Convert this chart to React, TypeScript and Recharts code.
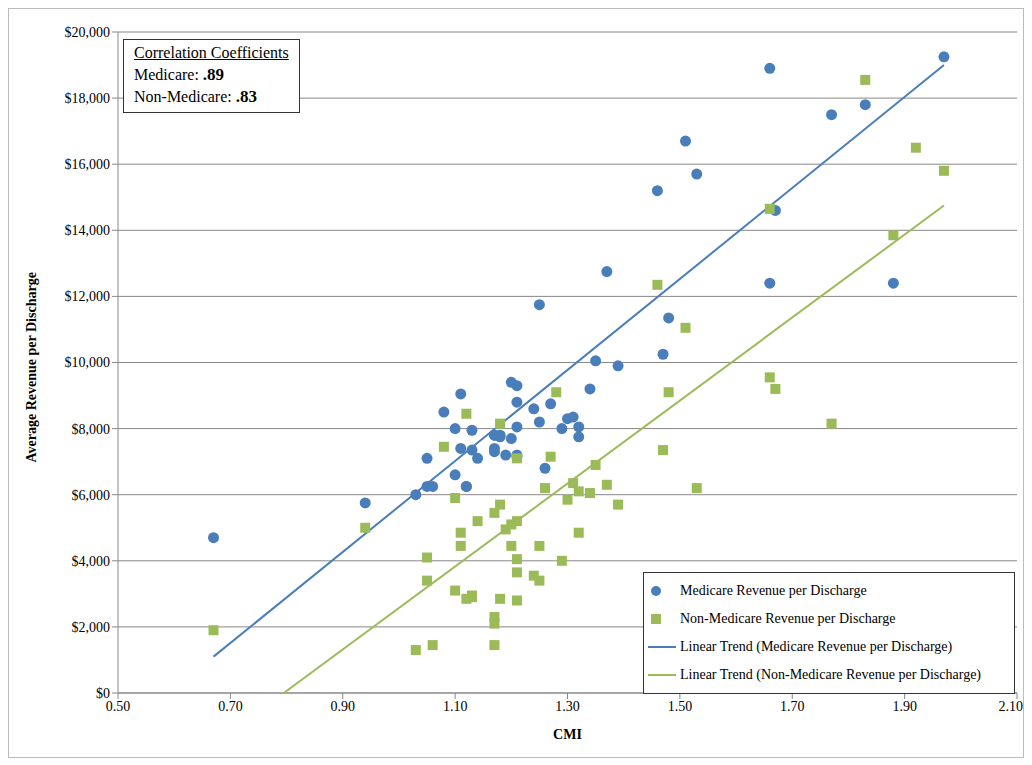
import { ScatterChart, Scatter, XAxis, YAxis, CartesianGrid, Legend } from 'recharts';

// CMI per hospital and revenue per discharge
const cmi = [0.67, 0.94, 1.03, 1.05, 1.05, 1.06, 1.08, 1.10, 1.10, 1.11, 1.11, 1.12, 1.12, 1.13, 1.13, 1.14, 1.17, 1.17, 1.17, 1.18, 1.18, 1.17, 1.19, 1.20, 1.20, 1.21, 1.21, 1.21, 1.21, 1.25, 1.24, 1.25, 1.26, 1.27, 1.29, 1.30, 1.31, 1.32, 1.32, 1.35, 1.34, 1.39, 1.37, 1.47, 1.48, 1.46, 1.51, 1.53, 1.66, 1.67, 1.66, 1.77, 1.83, 1.88, 1.97, 1.92, 1.28, 1.18, 1.21];
const medicare = [4700, 5750, 6000, 7100, 6250, 6250, 8500, 8000, 6600, 7400, 9050, 6250, 6250, 7950, 7350, 7100, 7800, 7400, 7300, 7800, 7750, 7800, 7200, 7700, 9400, 9300, 8800, 8050, 7150, 11750, 8600, 8200, 6800, 8750, 8000, 8300, 8350, 8050, 7750, 10050, 9200, 9900, 12750, 10250, 11350, 15200, 16700, 15700, 18900, 14600, 12400, 17500, 17800, 12400, 19250, null, null, null, 7200];
const nonMedicare = [1900, 5000, 1300, 4100, 3400, 1450, 7450, 3100, 5900, 4850, 4450, 8450, 2850, 2900, 2950, 5200, 2300, 2100, 1450, 5700, 8150, 5450, 4950, 5100, 4450, 2800, 3650, 4050, 5200, 4450, 3550, 3400, 6200, 7150, 4000, 5850, 6350, 6100, 4850, 6900, 6050, 5700, 6300, 7350, 9100, 12350, 11050, 6200, 14650, 9200, 9550, 8150, 18550, 13850, 15800, 16500, 9100, 2850, 7100];

// trend line endpoints
const trendMedX = [0.67, 1.97];
const trendMedY = [1100, 19000];
const trendNonX = [0.795, 1.97];
const trendNonY = [0, 14750];

const xTicks = [0.5, 0.7, 0.9, 1.1, 1.3, 1.5, 1.7, 1.9, 2.1];
const yTicks = [0, 2000, 4000, 6000, 8000, 10000, 12000, 14000, 16000, 18000, 20000];

const medData = cmi.map((x, i) => ({ x, y: medicare[i] })).filter((d) => d.y != null);
const nonData = cmi.map((x, i) => ({ x, y: nonMedicare[i] })).filter((d) => d.y != null);
const medTrend = trendMedX.map((x, i) => ({ x, y: trendMedY[i] }));
const nonTrend = trendNonX.map((x, i) => ({ x, y: trendNonY[i] }));

const BLUE = '#4a7ebb';
const GREEN = '#9bbb59';
const font = '"Liberation Serif", "Times New Roman", serif';

const legendItems = [
    { label: 'Medicare Revenue per Discharge', kind: 'circle', color: BLUE },
    { label: 'Non-Medicare Revenue per Discharge', kind: 'square', color: GREEN },
    { label: 'Linear Trend (Medicare Revenue per Discharge)', kind: 'line', color: BLUE },
    { label: 'Linear Trend (Non-Medicare Revenue per Discharge)', kind: 'line', color: GREEN },
];

const LegendBox = () => (
    <div style={{ border: '1px solid #333', background: '#fff', padding: '4px 4px', fontFamily: font, fontSize: 14, width: 362 }}>
        {legendItems.map((it) => (
            <div key={it.label} style={{ display: 'flex', alignItems: 'center', height: 28, whiteSpace: 'nowrap' }}>
                <svg width={30} height={12}>
                    {it.kind === 'circle' && <circle cx={8} cy={6} r={5} fill={it.color} />}
                    {it.kind === 'square' && <rect x={3} y={1} width={10} height={10} fill={it.color} />}
                    {it.kind === 'line' && <line x1={0} y1={6} x2={28} y2={6} stroke={it.color} strokeWidth={2} />}
                </svg>
                <span style={{ marginLeft: 2 }}>{it.label}</span>
            </div>
        ))}
    </div>
);

const Dot = (props: any) => <circle cx={props.cx} cy={props.cy} r={5.5} fill={BLUE} />;
const Sq = (props: any) => <rect x={props.cx - 5} y={props.cy - 5} width={10} height={10} fill={GREEN} />;

export default function App() {
    return (
        <div style={{ position: 'relative', width: 1016, height: 750, fontFamily: font, border: '1px solid #bbb', boxSizing: 'border-box' }}>
            <ScatterChart width={1014} height={748} margin={{ top: 23, right: 6, left: 0, bottom: 14 }}>
                <CartesianGrid vertical={false} stroke="#888" />
                <XAxis type="number" dataKey="x" domain={[0.5, 2.1]} ticks={xTicks} tickFormatter={(v) => v.toFixed(2)}
                    height={50} stroke="#888" tick={{ fill: '#000', fontSize: 14, fontFamily: font }}
                    label={{ value: 'CMI', position: 'insideBottom', offset: 4, fill: '#000', fontWeight: 'bold', fontSize: 14, fontFamily: font }} />
                <YAxis type="number" dataKey="y" domain={[0, 20000]} ticks={yTicks} width={109}
                    tickFormatter={(v) => '$' + v.toLocaleString('en-US')} stroke="#888"
                    tick={{ fill: '#000', fontSize: 14, fontFamily: font }}
                    label={{ value: 'Average Revenue per Discharge', angle: -90, position: 'insideLeft', offset: 22, dy: 100, fill: '#000', fontWeight: 'bold', fontSize: 14, fontFamily: font }} />
                <Scatter data={medTrend} line={{ stroke: BLUE, strokeWidth: 2 }} shape={() => null} isAnimationActive={false} legendType="line" />
                <Scatter data={nonTrend} line={{ stroke: GREEN, strokeWidth: 2 }} shape={() => null} isAnimationActive={false} legendType="line" />
                <Scatter data={medData} shape={Dot} isAnimationActive={false} />
                <Scatter data={nonData} shape={Sq} isAnimationActive={false} />
                <Legend content={() => null} />
            </ScatterChart>
            <div style={{ position: 'absolute', left: 114, top: 30, border: '1px solid #333', background: '#fff', padding: '2px 10px 4px 10px', fontSize: 16, lineHeight: '22px', whiteSpace: 'nowrap' }}>
                <div style={{ textDecoration: 'underline' }}>Correlation Coefficients</div>
                <div>Medicare: <b style={{ fontSize: 17 }}>.89</b></div>
                <div>Non-Medicare: <b style={{ fontSize: 17 }}>.83</b></div>
            </div>
            <div style={{ position: 'absolute', left: 634, top: 563 }}>
                <LegendBox />
            </div>
        </div>
    );
}
